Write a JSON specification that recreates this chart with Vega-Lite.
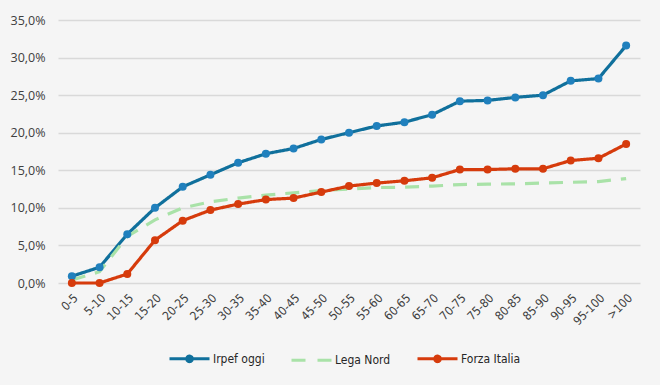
{
  "$schema": "https://vega.github.io/schema/vega-lite/v6.json",
  "width": 582,
  "height": 263,
  "autosize": "none",
  "padding": {"left": 58, "top": 20, "right": 20, "bottom": 102},
  "background": "#f5f5f5",
  "config": {
    "view": {"stroke": null},
    "locale": {"number": {"decimal": ",", "thousands": ".", "grouping": [3], "currency": ["€", ""]}},
    "font": "Open Sans"
  },
  "datasets": {
    "irpef": [
      {"fascia": "0-5", "Irpef oggi": 0.009, "Lega Nord": 0.004, "Forza Italia": 0.0},
      {"fascia": "5-10", "Irpef oggi": 0.021, "Lega Nord": 0.015, "Forza Italia": 0.0},
      {"fascia": "10-15", "Irpef oggi": 0.065, "Lega Nord": 0.062, "Forza Italia": 0.012},
      {"fascia": "15-20", "Irpef oggi": 0.100, "Lega Nord": 0.084, "Forza Italia": 0.057},
      {"fascia": "20-25", "Irpef oggi": 0.128, "Lega Nord": 0.100, "Forza Italia": 0.083},
      {"fascia": "25-30", "Irpef oggi": 0.144, "Lega Nord": 0.108, "Forza Italia": 0.097},
      {"fascia": "30-35", "Irpef oggi": 0.160, "Lega Nord": 0.113, "Forza Italia": 0.105},
      {"fascia": "35-40", "Irpef oggi": 0.172, "Lega Nord": 0.117, "Forza Italia": 0.111},
      {"fascia": "40-45", "Irpef oggi": 0.179, "Lega Nord": 0.120, "Forza Italia": 0.113},
      {"fascia": "45-50", "Irpef oggi": 0.191, "Lega Nord": 0.123, "Forza Italia": 0.121},
      {"fascia": "50-55", "Irpef oggi": 0.200, "Lega Nord": 0.125, "Forza Italia": 0.129},
      {"fascia": "55-60", "Irpef oggi": 0.209, "Lega Nord": 0.127, "Forza Italia": 0.133},
      {"fascia": "60-65", "Irpef oggi": 0.214, "Lega Nord": 0.1275, "Forza Italia": 0.136},
      {"fascia": "65-70", "Irpef oggi": 0.224, "Lega Nord": 0.129, "Forza Italia": 0.140},
      {"fascia": "70-75", "Irpef oggi": 0.242, "Lega Nord": 0.131, "Forza Italia": 0.151},
      {"fascia": "75-80", "Irpef oggi": 0.243, "Lega Nord": 0.1315, "Forza Italia": 0.151},
      {"fascia": "80-85", "Irpef oggi": 0.247, "Lega Nord": 0.132, "Forza Italia": 0.152},
      {"fascia": "85-90", "Irpef oggi": 0.250, "Lega Nord": 0.133, "Forza Italia": 0.152},
      {"fascia": "90-95", "Irpef oggi": 0.269, "Lega Nord": 0.134, "Forza Italia": 0.163},
      {"fascia": "95-100", "Irpef oggi": 0.272, "Lega Nord": 0.135, "Forza Italia": 0.166},
      {"fascia": ">100", "Irpef oggi": 0.316, "Lega Nord": 0.139, "Forza Italia": 0.185}
    ]
  },
  "data": {"name": "irpef"},
  "transform": [
    {"fold": ["Irpef oggi", "Lega Nord", "Forza Italia"], "as": ["serie", "valore"]}
  ],
  "encoding": {
    "x": {
      "field": "fascia", "type": "ordinal", "sort": null,
      "scale": {"type": "point", "padding": 0.5},
      "axis": {
        "title": null, "labelAngle": -45, "labelFontSize": 12, "labelColor": "#404040",
        "labelFont": "DejaVu Sans Condensed", "labelDx": -17,
        "domain": false, "ticks": false, "labelPadding": 9, "grid": false
      }
    },
    "y": {
      "field": "valore", "type": "quantitative",
      "scale": {"domain": [0, 0.35]},
      "axis": {
        "title": null, "format": ".1%", "values": [0, 0.05, 0.1, 0.15, 0.2, 0.25, 0.3, 0.35],
        "labelFontSize": 12.5, "labelColor": "#404040", "labelPadding": 13,
        "domain": false, "ticks": false, "gridColor": "#d9d9d9", "gridWidth": 1.5
      }
    }
  },
  "layer": [
    {
      "mark": {"type": "line", "strokeWidth": 3.2},
      "encoding": {
        "color": {
          "field": "serie", "type": "nominal", "sort": ["Irpef oggi", "Lega Nord", "Forza Italia"],
          "scale": {"domain": ["Irpef oggi", "Lega Nord", "Forza Italia"], "range": ["#10709c", "#a9e2a8", "#d63b0c"]},
          "legend": {
            "title": null, "orient": "none", "direction": "horizontal",
            "legendX": 110, "legendY": 317,
            "labelFont": "DejaVu Sans Condensed", "labelFontSize": 12, "labelColor": "#262626",
            "symbolSize": 1600, "symbolStrokeWidth": 3,
            "columnPadding": 20, "labelOffset": 2,
            "encode": {
              "symbols": {
                "update": {
                  "shape": {"signal": "datum.value === 'Lega Nord' ? 'M-1,0L-0.3,0M0.3,0L1,0' : 'M-1,0L1,0M0.14,0A0.14,0.14,0,1,1,-0.14,0A0.14,0.14,0,1,1,0.14,0'"},
                  "fill": {"signal": "datum.value === 'Lega Nord' ? 'transparent' : datum.value === 'Irpef oggi' ? '#2080bd' : '#d63b0c'"},
                  "strokeWidth": {"value": 3},
                  "opacity": {"value": 1}
                }
              }
            }
          }
        },
        "strokeDash": {
          "field": "serie", "type": "nominal",
          "scale": {"domain": ["Irpef oggi", "Lega Nord", "Forza Italia"], "range": [[1, 0], [14, 10], [1, 0]]},
          "legend": null
        }
      }
    },
    {
      "transform": [{"filter": "datum.serie !== 'Lega Nord'"}],
      "mark": {"type": "point", "filled": true, "opacity": 1, "size": 64, "shape": "circle"},
      "encoding": {
        "fill": {
          "field": "serie", "type": "nominal",
          "scale": {"domain": ["Irpef oggi", "Lega Nord", "Forza Italia"], "range": ["#2080bd", "#a9e2a8", "#d63b0c"]},
          "legend": null
        }
      }
    }
  ]
}
